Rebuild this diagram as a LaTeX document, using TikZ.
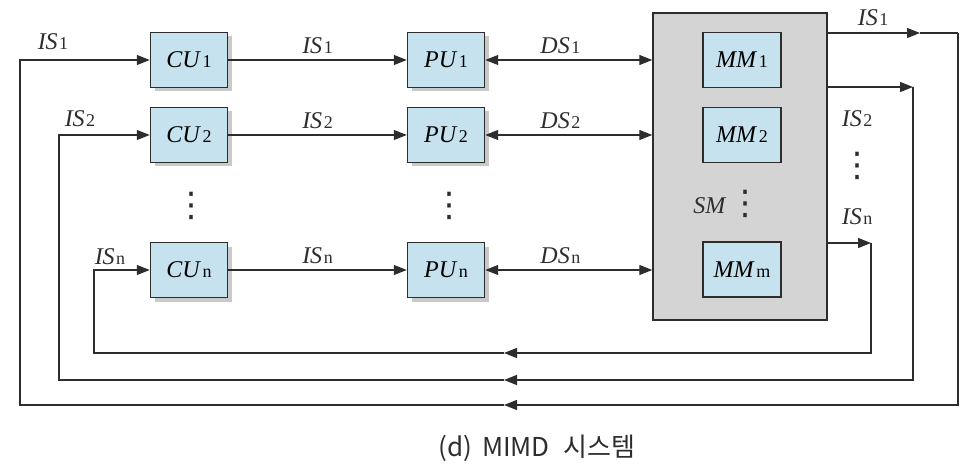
\documentclass[tikz,border=0pt]{standalone}
\usepackage{fontspec}
\setmainfont{Liberation Serif}
\newfontfamily\hangulfont{Noto Sans CJK KR}
\newfontfamily\dotsfont{DejaVu Sans}
\usetikzlibrary{arrows.meta,shadows}

\definecolor{unitblue}{RGB}{198,226,238}
\definecolor{smgray}{RGB}{212,212,212}
\definecolor{inkgray}{RGB}{45,45,45}

\newcommand\lblfont{\fontsize{24}{27}\selectfont}
\newcommand\lbl[2]{\textit{#1}\kern1.5pt{\fontsize{18}{18}\selectfont #2}}
\newcommand\vdts{{\dotsfont\fontsize{34}{34}\selectfont ⋮}}

\tikzset{
    unitbox/.style={draw=inkgray, line width=1.4pt, fill=unitblue,
        minimum width=77pt, minimum height=55pt, inner sep=0pt, font=\lblfont,
        drop shadow={shadow xshift=4pt, shadow yshift=-4pt, fill=black!30, opacity=0.7}},
    membox/.style={draw=inkgray, line width=1.4pt, fill=unitblue,
        minimum width=78pt, minimum height=55pt, inner sep=0pt, font=\lblfont},
    smbox/.style={draw=inkgray, line width=1.4pt, fill=smgray,
        minimum width=174pt, minimum height=307pt, inner sep=0pt},
    tag/.style={font=\lblfont, inner sep=0pt, text=inkgray},
    link/.style={draw=inkgray, line width=1.2pt}
}

\begin{document}
\begin{tikzpicture}[x=1pt,y=-1pt,>={Triangle[length=13pt,width=10pt]}]
            \useasboundingbox (0,0) rectangle (972,476);

            % shared memory
            \node[smbox] (SM) at (740,166.5) {};
            \node[membox] (MM1) at (742,60) {\lbl{MM}{1}};
            \node[membox] (MM2) at (742,135) {\lbl{MM}{2}};
            \node[membox] (MMm) at (742,269.5) {\lbl{MM}{m}};
            \node[tag] (SMtag) at (710,206) {\textit{SM}};
            \node[tag] (SMdots) at (745,204) {\vdts};

            % control and processing units
            \foreach \i/\y in {1/60, 2/135, n/270} {
                \node[unitbox] (CU\i) at (189,\y) {\lbl{CU}{\i}};
                \node[unitbox] (PU\i) at (446,\y) {\lbl{PU}{\i}};
                \draw[link,->] (CU\i) -- node[tag,above=6pt] {\lbl{IS}{\i}} (PU\i);
                \draw[link,<->] (PU\i) -- node[tag,above=6pt,pos=0.45] {\lbl{DS}{\i}} (SM.west |- PU\i);
            }
            \node[tag] (CUdots) at (191,206) {\vdts};
            \node[tag] (PUdots) at (449,206) {\vdts};

            % instruction streams back to the control units
            \coordinate (t1) at (920,33);
            \coordinate (r1) at (958,33);
            \coordinate (b1) at (958,405);
            \coordinate (m1) at (504,405);
            \coordinate (l1) at (20,405);
            \coordinate (r2) at (913,87);
            \coordinate (b2) at (913,380);
            \coordinate (m2) at (504,380);
            \coordinate (l2) at (59,380);
            \coordinate (rn) at (871,243);
            \coordinate (bn) at (871,353);
            \coordinate (mn) at (504,353);
            \coordinate (ln) at (94,353);

            \draw[link,->] (SM.east |- r1) -- (t1);
            \draw[link] (t1) -- (r1);
            \draw[link,->] (r1) -- (b1) -- (m1);
            \draw[link,->] (m1) -- (l1) |- (CU1.west);

            \draw[link,->] (SM.east |- r2) -- (r2);
            \draw[link,->] (r2) -- (b2) -- (m2);
            \draw[link,->] (m2) -- (l2) |- (CU2.west);

            \draw[link,->] (SM.east |- rn) -- (rn);
            \draw[link,->] (rn) -- (bn) -- (mn);
            \draw[link,->] (mn) -- (ln) |- (CUn.west);

            \node[tag] (IS1in) at (53,42) {\lbl{IS}{1}};
            \node[tag] (IS2in) at (80,119) {\lbl{IS}{2}};
            \node[tag] (ISnin) at (110,257) {\lbl{IS}{n}};
            \node[tag] (IS1out) at (873,18) {\lbl{IS}{1}};
            \node[tag] (IS2out) at (857,119) {\lbl{IS}{2}};
            \node[tag] (ISdots) at (857,166) {\vdts};
            \node[tag] (ISnout) at (857,217) {\lbl{IS}{n}};

            \node[font=\hangulfont\fontsize{26}{30}\selectfont, text=inkgray] (caption) at (537,448) {(d)\hspace{4pt} MIMD\hspace{8pt} 시스템};
        \end{tikzpicture}
\end{document}
